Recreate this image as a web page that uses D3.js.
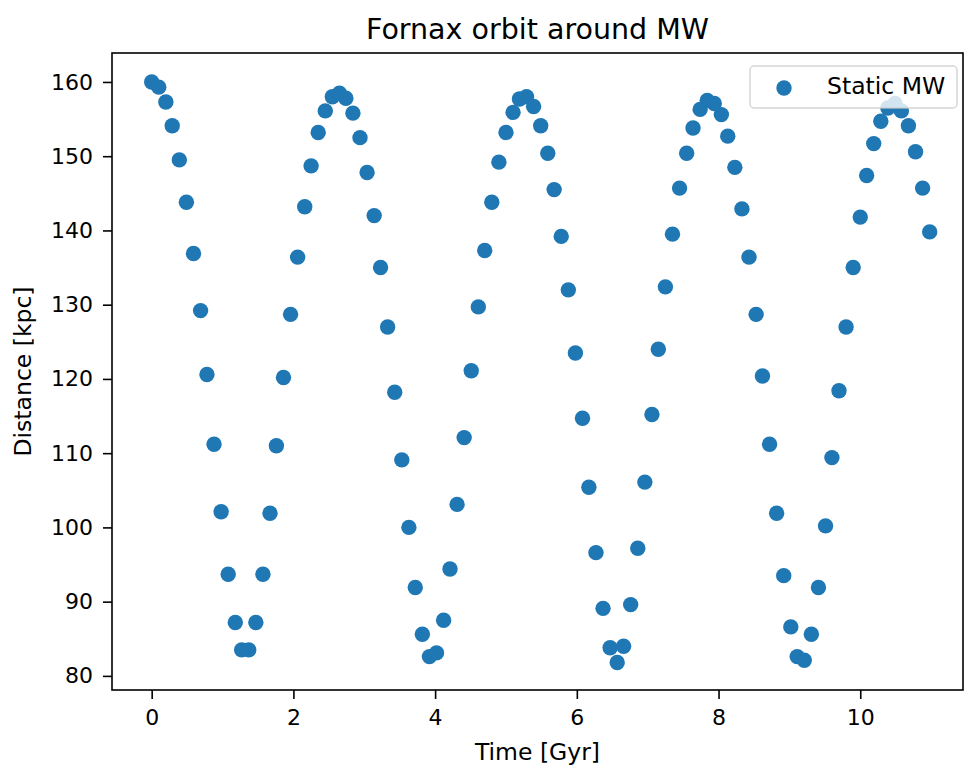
<!DOCTYPE html>
<html>
<head>
<meta charset="utf-8">
<script src="https://cdn.jsdelivr.net/npm/d3@7"></script>
<style>
  body { margin: 0; background: #fff; }
  svg { display: block; font-family: "DejaVu Sans", sans-serif; }
</style>
</head>
<body>
<div id="chart"></div>
<script>
// time of each snapshot [Gyr]
const times = [
  0, 0.10, 0.20, 0.29, 0.39, 0.49, 0.59, 0.69, 0.78, 0.88,
  0.98, 1.08, 1.18, 1.27, 1.37, 1.47, 1.57, 1.67, 1.76, 1.86,
  1.96, 2.06, 2.16, 2.25, 2.35, 2.45, 2.55, 2.65, 2.74, 2.84,
  2.94, 3.04, 3.14, 3.23, 3.33, 3.43, 3.53, 3.63, 3.72, 3.82,
  3.92, 4.02, 4.12, 4.21, 4.31, 4.41, 4.51, 4.61, 4.70, 4.80,
  4.90, 5.00, 5.10, 5.19, 5.29, 5.39, 5.49, 5.59, 5.68, 5.78,
  5.88, 5.98, 6.08, 6.17, 6.27, 6.37, 6.47, 6.57, 6.66, 6.76,
  6.86, 6.96, 7.06, 7.15, 7.25, 7.35, 7.45, 7.55, 7.64, 7.74,
  7.84, 7.94, 8.04, 8.13, 8.23, 8.33, 8.43, 8.53, 8.62, 8.72,
  8.82, 8.92, 9.02, 9.11, 9.21, 9.31, 9.41, 9.51, 9.60, 9.70,
  9.80, 9.90, 10.00, 10.09, 10.19, 10.29, 10.39, 10.49, 10.58, 10.68,
  10.78, 10.88, 10.98
]

// galactocentric distance [kpc], static MW potential
const distance = [
  160.0, 159.3, 157.3, 154.1, 149.5, 143.8, 136.9, 129.2, 120.6, 111.2,
  102.1, 93.7, 87.2, 83.5, 83.5, 87.2, 93.7, 101.9, 111.0, 120.2,
  128.7, 136.4, 143.2, 148.7, 153.2, 156.1, 158.0, 158.5, 157.8, 155.8,
  152.5, 147.8, 142.0, 135.0, 127.0, 118.2, 109.1, 100.0, 91.9, 85.6,
  82.6, 83.1, 87.5, 94.4, 103.1, 112.1, 121.1, 129.7, 137.3, 143.8,
  149.2, 153.2, 155.9, 157.7, 158.0, 156.7, 154.1, 150.4, 145.5, 139.2,
  132.0, 123.5, 114.7, 105.4, 96.6, 89.1, 83.8, 81.8, 84.0, 89.6,
  97.2, 106.1, 115.2, 124.0, 132.4, 139.5, 145.7, 150.4, 153.8, 156.3,
  157.5, 157.1, 155.6, 152.7, 148.5, 142.9, 136.4, 128.7, 120.4, 111.2,
  101.9, 93.5, 86.6, 82.6, 82.1, 85.6, 91.9, 100.2, 109.4, 118.4,
  127.0, 135.0, 141.8, 147.4, 151.7, 154.7, 156.5, 157.1, 156.1, 154.1,
  150.6, 145.7, 139.8
]

const xTicks = [0, 2, 4, 6, 8, 10]
const yTicks = [80, 90, 100, 110, 120, 130, 140, 150, 160]
const seriesName = "Static MW"

const W = 965, H = 770
const margin = {top: 53, right: 2, bottom: 80, left: 112},
    width = W - margin.left - margin.right,
    height = H - margin.top - margin.bottom

const blue = "#1f77b4"

const svg = d3.select("#chart").append("svg")
    .attr("width", W)
    .attr("height", H)

const x = d3.scaleLinear()
    .domain([-0.56, 11.45])
    .range([0, width])

const y = d3.scaleLinear()
    .domain([78.1, 163.9])
    .range([height, 0])

const g = svg.append("g")
    .attr("transform", "translate(" + margin.left + "," + margin.top + ")")

// points
g.append("g")
    .selectAll("circle")
    .data(times)
    .enter().append("circle")
    .attr("cx", d => x(d))
    .attr("cy", (d, i) => y(distance[i]))
    .attr("r", 7.7)
    .attr("fill", blue)

// axes
const xAxis = g.append("g")
    .attr("transform", "translate(0," + height + ")")
    .call(d3.axisBottom(x).tickValues(xTicks).tickSize(9).tickPadding(10.5).tickFormat(d3.format("d")))

const yAxis = g.append("g")
    .call(d3.axisLeft(y).tickValues(yTicks).tickSize(9).tickPadding(10).tickFormat(d3.format("d")))

;[xAxis, yAxis].forEach(a => {
  a.select(".domain").remove()
  a.selectAll(".tick line").attr("stroke", "#000").attr("stroke-width", 1.6)
  a.selectAll(".tick text")
      .attr("fill", "#000")
      .style("font-size", "22px")
      .style("font-family", "DejaVu Sans, sans-serif")
})

// frame
g.append("rect")
    .attr("x", 0)
    .attr("y", 0)
    .attr("width", width)
    .attr("height", height)
    .attr("fill", "none")
    .attr("stroke", "#000")
    .attr("stroke-width", 1.6)

// title and labels
svg.append("text")
    .attr("x", margin.left + width / 2)
    .attr("y", 39)
    .attr("text-anchor", "middle")
    .style("font-size", "28.5px")
    .text("Fornax orbit around MW")

svg.append("text")
    .attr("x", margin.left + width / 2)
    .attr("y", 760)
    .attr("text-anchor", "middle")
    .style("font-size", "23.5px")
    .text("Time [Gyr]")

svg.append("text")
    .attr("transform", "translate(31," + (margin.top + height / 2) + ") rotate(-90)")
    .attr("text-anchor", "middle")
    .style("font-size", "23.5px")
    .text("Distance [kpc]")

// legend (drawn over the points, like matplotlib)
const legend = svg.append("g")
    .attr("transform", "translate(750,66)")

legend.append("rect")
    .attr("width", 207)
    .attr("height", 42)
    .attr("rx", 4)
    .attr("fill", "rgba(255,255,255,0.8)")
    .attr("stroke", "rgba(204,204,204,0.8)")
    .attr("stroke-width", 1.5)

legend.append("circle")
    .attr("cx", 34)
    .attr("cy", 22)
    .attr("r", 7.7)
    .attr("fill", blue)

legend.append("text")
    .attr("x", 77)
    .attr("y", 27.5)
    .style("font-size", "23.5px")
    .text(seriesName)
</script>
</body>
</html>
